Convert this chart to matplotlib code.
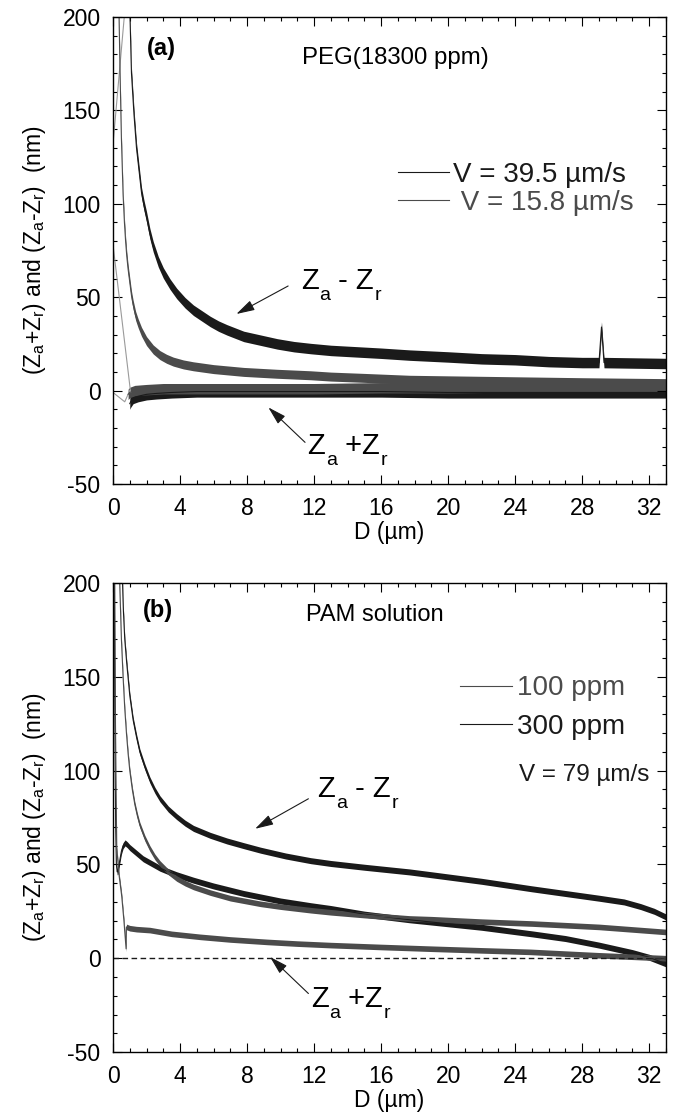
import numpy as np
import matplotlib
matplotlib.use('Agg')
import matplotlib.pyplot as plt
from matplotlib.ticker import MultipleLocator
from matplotlib.lines import Line2D

plt.rcParams['font.family'] = ['Liberation Sans', 'DejaVu Sans']
plt.rcParams['mathtext.fontset'] = 'custom'
plt.rcParams['mathtext.rm'] = 'Liberation Sans'
plt.rcParams['mathtext.it'] = 'Liberation Sans'
plt.rcParams['mathtext.bf'] = 'Liberation Sans:bold'
plt.rcParams['axes.unicode_minus'] = False

# ---- panel (a): PEG 18300 ppm, two approach speeds ----
d_a_fast_diff = [1.0, 1.1, 1.25, 1.4, 1.55, 1.7, 1.85, 2.0, 2.2, 2.4, 2.7, 3.0, 3.4, 3.8, 4.3,
                 4.8, 5.3, 5.8, 6.3, 6.8, 7.8, 8.8, 9.8, 10.8, 11.8, 13, 14, 16, 17.7, 20,
                 22, 24, 26, 28, 29.0, 29.15, 29.3, 33]
v_a_fast_diff = [205, 170, 148, 130, 118, 106, 99, 93, 84, 77, 69, 63, 57, 52, 47,
                 43, 40, 37, 34.5, 32.5, 29, 27, 25, 23.5, 22.5, 21.5, 21, 20, 19, 18,
                 17, 16.5, 15.5, 15, 15, 34, 15, 14.5]

d_a_slow_diff = [0.35, 0.42, 0.5, 0.6, 0.68, 0.75, 0.82, 0.9, 1.0, 1.1, 1.2, 1.35, 1.5, 1.7,
                 2.0, 2.4, 2.8, 3.2, 3.6, 4.2, 4.8, 6, 7.8, 9.8, 11.8, 13, 15, 17.7, 20,
                 24, 28, 33]
v_a_slow_diff = [205, 170, 135, 105, 90, 80, 72, 65, 58, 51, 46, 40, 36, 31.5,
                 26.5, 22, 19, 17, 15.5, 14, 13, 11.5, 10, 9, 8.2, 7.5, 6.8, 5.8, 5.5,
                 5, 4.5, 4]

d_a_fast_sum = [1.0, 1.05, 1.2, 1.5, 2.0, 2.6, 3.5, 5, 8, 12, 16, 20, 24, 28, 33]
v_a_fast_sum = [-7, -6, -4, -3, -2, -1.5, -1, -0.5, -0.5, -0.5, -0.5, -1, -1, -1, -1]

d_a_slow_sum = [0.9, 1.0, 1.3, 2, 3, 5, 8, 12, 16, 20, 24, 28, 33]
v_a_slow_sum = [-2, -1, 0, 0.5, 1, 1, 1, 1, 1.5, 1.5, 2, 2, 2]

# thin retrace segments near contact (NaN separates pieces)
d_a_retrace = [0, 0.7, np.nan, 0, 1.05, np.nan, 0, 0.7, 1.0]
v_a_retrace = [132, 203, np.nan, 78, -1, np.nan, -1, -6, 0]

# ---- panel (b): PAM solution, V = 79 um/s ----
d_b_300_diff = [0.55, 0.62, 0.7, 0.82, 1.0, 1.2, 1.4, 1.6, 1.9, 2.2, 2.5, 2.8, 3.3, 3.8, 4.3,
                4.8, 5.8, 6.8, 7.8, 8.8, 10.3, 11.8, 13, 15, 17.7, 19, 22, 25, 27, 29,
                30.5, 31.5, 32.3, 33]
v_b_300_diff = [205, 185, 170, 157, 140, 127, 118, 110, 102, 95, 89.5, 85, 79.5, 75.5, 72,
                69.2, 65.5, 62.5, 60, 57.6, 54.5, 52, 50.5, 48.5, 46, 44.5, 41, 37, 34.5, 32,
                30, 27.5, 25, 22]

d_b_100_diff = [0.38, 0.45, 0.5, 0.6, 0.7, 0.8, 0.9, 1.0, 1.15, 1.3, 1.45, 1.6, 1.9, 2.2,
                2.5, 2.8, 3.3, 3.8, 4.3, 4.8, 5.8, 7, 8.8, 10, 11.8, 13, 15, 17.7, 19, 22,
                25, 29, 33]
v_b_100_diff = [205, 185, 170, 150, 133, 120, 109, 100, 90, 82, 76, 71, 64, 58.5,
                54, 50.5, 46, 42.5, 40, 38, 35, 32, 29, 27.5, 25.6, 24.5, 23, 21.2, 20.8, 19.5,
                18.5, 16.7, 14]

d_b_300_sum = [0.08, 0.1, 0.13, 0.16, 0.2, 0.25, 0.3, 0.4, 0.5, 0.6, 0.72, 0.85, 1.0, 1.4,
               1.8, 2.3, 2.8, 3.3, 3.8, 4.8, 6, 7.8, 10, 11.8, 13, 15, 17.7, 19, 22, 25,
               27, 29, 31, 32, 33]
v_b_300_sum = [205, 150, 100, 70, 50, 46, 46.5, 52, 57, 60, 61.5, 60.5, 59, 56,
               53, 50.5, 48, 46.2, 44.5, 41.6, 38.5, 34.5, 30.5, 28, 26.5, 23.5, 20.5, 19.3, 16.5, 13,
               10.5, 7, 3, 0.5, -3]

d_b_100_sum = [0.1, 0.15, 0.22, 0.35, 0.52, 0.65, 0.78, 0.8, 1.0, 1.4, 2.2, 3.5, 5.2, 7, 9.2,
               11, 13, 16, 18.9, 22, 24.9, 28.9, 31, 33]
v_b_100_sum = [205, 120, 59, 45, 33, 20, 5, 16.7, 16, 15.5, 15, 13, 11.4, 10, 8.7,
               7.8, 7, 6, 5.1, 4.2, 3.4, 1.6, 0.8, 0]

BLACK = '#1a1a1a'
GRAY = '#4b4b4b'
LIGHT = '#9a9a9a'
ARROW = dict(arrowstyle='-|>,head_length=0.7,head_width=0.2', color=BLACK, lw=0.8,
             mutation_scale=16, shrinkA=0, shrinkB=0)


def trace(ax, d, v, color, noise):
    # noisy trace: band of +-noise around the read values plus a thin centre line
    d = np.asarray(d, float)
    v = np.asarray(v, float)
    ax.fill_between(d, v - noise, v + noise, color=color, lw=0)
    ax.plot(d, v, color=color, lw=0.8)


def zlabel(ax, x, y, op, sub2='r', size=21, subsize=14):
    # "Z_a op Z_r" written with real lowered subscripts
    t1 = ax.text(x, y, 'Z', fontsize=size, va='baseline')
    t2 = ax.annotate('a', xy=(1, 0), xycoords=t1, xytext=(0.5, -3.5),
                     textcoords='offset points', fontsize=subsize, va='baseline')
    t3 = ax.annotate(op + 'Z', xy=(1, 0), xycoords=(t2, t1), fontsize=size, va='bottom')
    ax.annotate(sub2, xy=(1, 0), xycoords=t3, xytext=(0.5, -3.5),
                textcoords='offset points', fontsize=subsize, va='baseline')


def style(ax):
    ax.set_xlim(0, 33)
    ax.set_ylim(-50, 200)
    ax.xaxis.set_major_locator(MultipleLocator(4))
    ax.xaxis.set_minor_locator(MultipleLocator(1))
    ax.yaxis.set_major_locator(MultipleLocator(50))
    ax.yaxis.set_minor_locator(MultipleLocator(10))
    ax.tick_params(which='both', direction='in', top=True, right=True,
                   labelsize=16.5, pad=9, width=0.8)
    ax.tick_params(which='major', length=6.5)
    ax.tick_params(which='minor', length=3.2)
    for s in ax.spines.values():
        s.set_linewidth(1.0)
    ax.set_xlabel('D (µm)', fontsize=16.5, labelpad=1)
    ax.set_ylabel('($Z_a$+$Z_r$) and ($Z_a$-$Z_r$)  (nm)', fontsize=16.5)
    ax.yaxis.set_label_coords(-0.118, 0.5)


fig = plt.figure(figsize=(6.78, 11.16), dpi=100)
ax1 = fig.add_axes([0.1667, 0.5663, 0.8156, 0.4185])
ax2 = fig.add_axes([0.1667, 0.0573, 0.8156, 0.4203])

# panel (a)
ax1.plot(d_a_retrace, v_a_retrace, color=LIGHT, lw=0.8)
trace(ax1, d_a_fast_diff, v_a_fast_diff, BLACK, 2.8)
trace(ax1, d_a_slow_diff, v_a_slow_diff, GRAY, 2.4)
trace(ax1, d_a_fast_sum, v_a_fast_sum, BLACK, 3.0)
trace(ax1, d_a_slow_sum, v_a_slow_sum, GRAY, 2.8)
style(ax1)

ax1.text(2.0, 183, '(a)', fontsize=17, fontweight='bold', va='center')
ax1.text(11.3, 178, 'PEG(18300 ppm)', fontsize=17.3, va='center')
handles = [Line2D([], [], color=BLACK, lw=0.8), Line2D([], [], color=GRAY, lw=0.8)]
ax1.legend(handles, ['V = 39.5 µm/s', ' V = 15.8 µm/s'], loc='center left',
           bbox_to_anchor=(0.515, 0.632), frameon=False, fontsize=20,
           handlelength=1.85, handletextpad=0.15, labelspacing=0.05,
           borderpad=0, borderaxespad=0, labelcolor='linecolor')
ax1.annotate('', xy=(7.36, 41), xytext=(10.45, 56), arrowprops=ARROW)
zlabel(ax1, 11.2, 54.5, ' - ')
ax1.annotate('', xy=(9.27, -9), xytext=(11.46, -27.7), arrowprops=ARROW)
zlabel(ax1, 11.6, -34, ' +')

# panel (b)
ax2.axhline(0, color=BLACK, lw=1.0, ls=(0, (4, 2.5)))
trace(ax2, d_b_300_diff, v_b_300_diff, BLACK, 1.6)
trace(ax2, d_b_300_sum, v_b_300_sum, BLACK, 1.6)
trace(ax2, d_b_100_diff, v_b_100_diff, GRAY, 1.5)
trace(ax2, d_b_100_sum, v_b_100_sum, GRAY, 1.5)
style(ax2)

ax2.text(1.8, 185.5, '(b)', fontsize=17, fontweight='bold', va='center')
ax2.text(11.5, 183, 'PAM solution', fontsize=17, va='center')
handles = [Line2D([], [], color=GRAY, lw=0.8), Line2D([], [], color=BLACK, lw=0.8)]
ax2.legend(handles, ['100 ppm', '300 ppm'], loc='center left',
           bbox_to_anchor=(0.628, 0.7345), frameon=False, fontsize=20,
           handlelength=1.85, handletextpad=0.2, labelspacing=0.45,
           borderpad=0, borderaxespad=0, labelcolor='linecolor')
ax2.text(24.2, 97.5, 'V = 79 µm/s', fontsize=17.5, va='center', color=BLACK)
ax2.annotate('', xy=(8.48, 69), xytext=(11.66, 85), arrowprops=ARROW)
zlabel(ax2, 12.2, 86, ' - ')
ax2.annotate('', xy=(9.37, 0.7), xytext=(11.66, -18.8), arrowprops=ARROW)
zlabel(ax2, 11.8, -26, ' +')

fig.savefig('out.png', dpi=100)
